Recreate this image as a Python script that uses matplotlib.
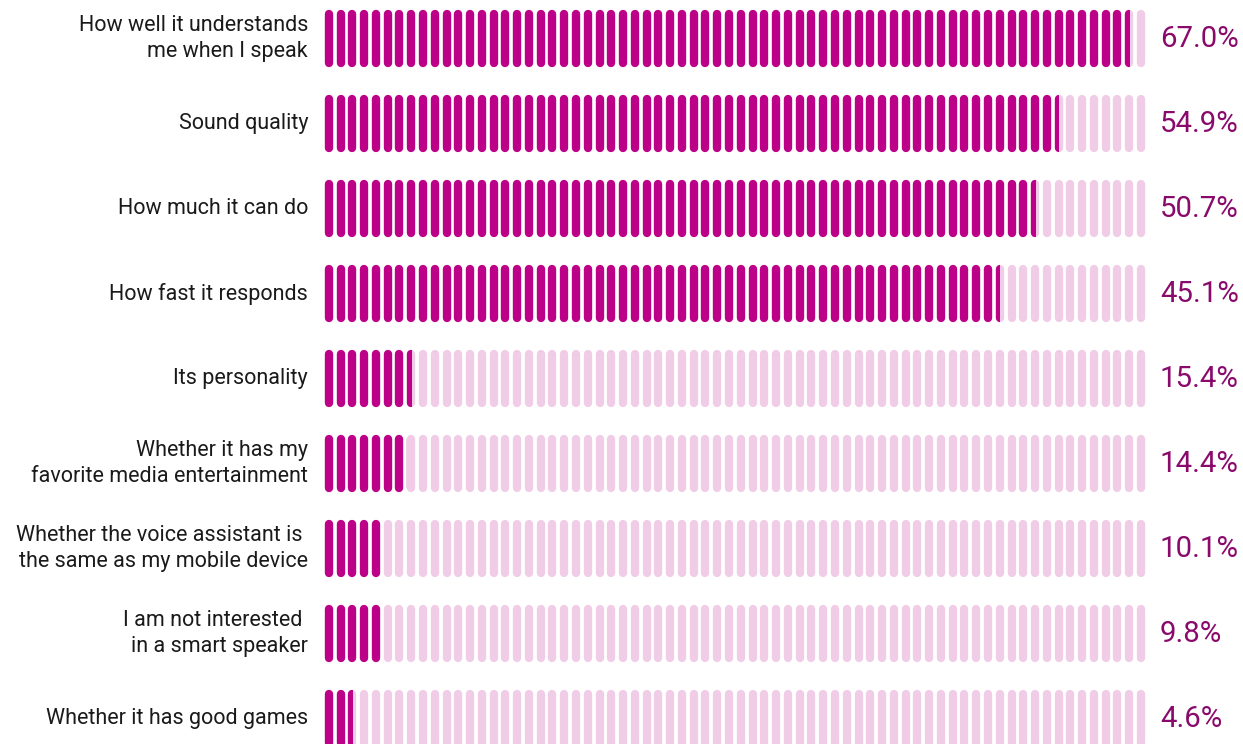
import matplotlib
matplotlib.use("Agg")
import matplotlib.pyplot as plt
from matplotlib import font_manager
from matplotlib.patches import Rectangle

# ---- data ----
categories = [
    "How well it understands\nme when I speak",
    "Sound quality",
    "How much it can do",
    "How fast it responds",
    "Its personality",
    "Whether it has my\nfavorite media entertainment",
    "Whether the voice assistant is \nthe same as my mobile device",
    "I am not interested \nin a smart speaker",
    "Whether it has good games",
]
value_labels = ["67.0%", "54.9%", "50.7%", "45.1%", "15.4%", "14.4%", "10.1%", "9.8%", "4.6%"]
# filled length of each bar, in segments (out of 70)
bar_lengths = [68.57, 62.53, 60.58, 57.55, 7.57, 7.1, 5.05, 5.0, 2.53]
n_segments = 70

dark = "#BC0088"
light = "#F0CCE6"
label_color = "#8A0A6C"
text_color = "#1a1a1a"

names = {f.name for f in font_manager.fontManager.ttflist}
font = "Roboto" if "Roboto" in names else "DejaVu Sans"

W, H = 1243, 744
fig = plt.figure(figsize=(W / 100, H / 100), dpi=100)
pitch = 11.77
x0_px = 322.97
ax = fig.add_axes([x0_px / W, 0, n_segments * pitch / W, 1])
row_pitch = 85.0
top_px = 38.5
ax.set_xlim(0, n_segments)
ax.set_ylim((H - top_px) / row_pitch, -top_px / row_pitch)
ax.axis("off")

seg_w_pt = 8.3 * 72 / 100
half = (28.5 - 4.15) / row_pitch
xs = [j + 0.5 for j in range(n_segments)]

for i, (cat, lab, L) in enumerate(zip(categories, value_labels, bar_lengths)):
    lc = ax.vlines(xs, i - half, i + half, colors=light, linewidth=seg_w_pt)
    lc.set_capstyle("round")
    dc = ax.vlines(xs, i - half, i + half, colors=dark, linewidth=seg_w_pt)
    dc.set_capstyle("round")
    clip = Rectangle((0, i - 0.5), L, 1.0, transform=ax.transData)
    dc.set_clip_path(clip)
    ax.text(-1.27, i, cat, ha="right", va="center", multialignment="right",
            fontsize=15.5, family=font, color=text_color, linespacing=1.32,
            clip_on=False)
    ax.text(71.1, i + 0.01, lab, ha="left", va="center", fontsize=21.2,
            family=font, color=label_color, clip_on=False)

fig.savefig("out.png", dpi=100)
